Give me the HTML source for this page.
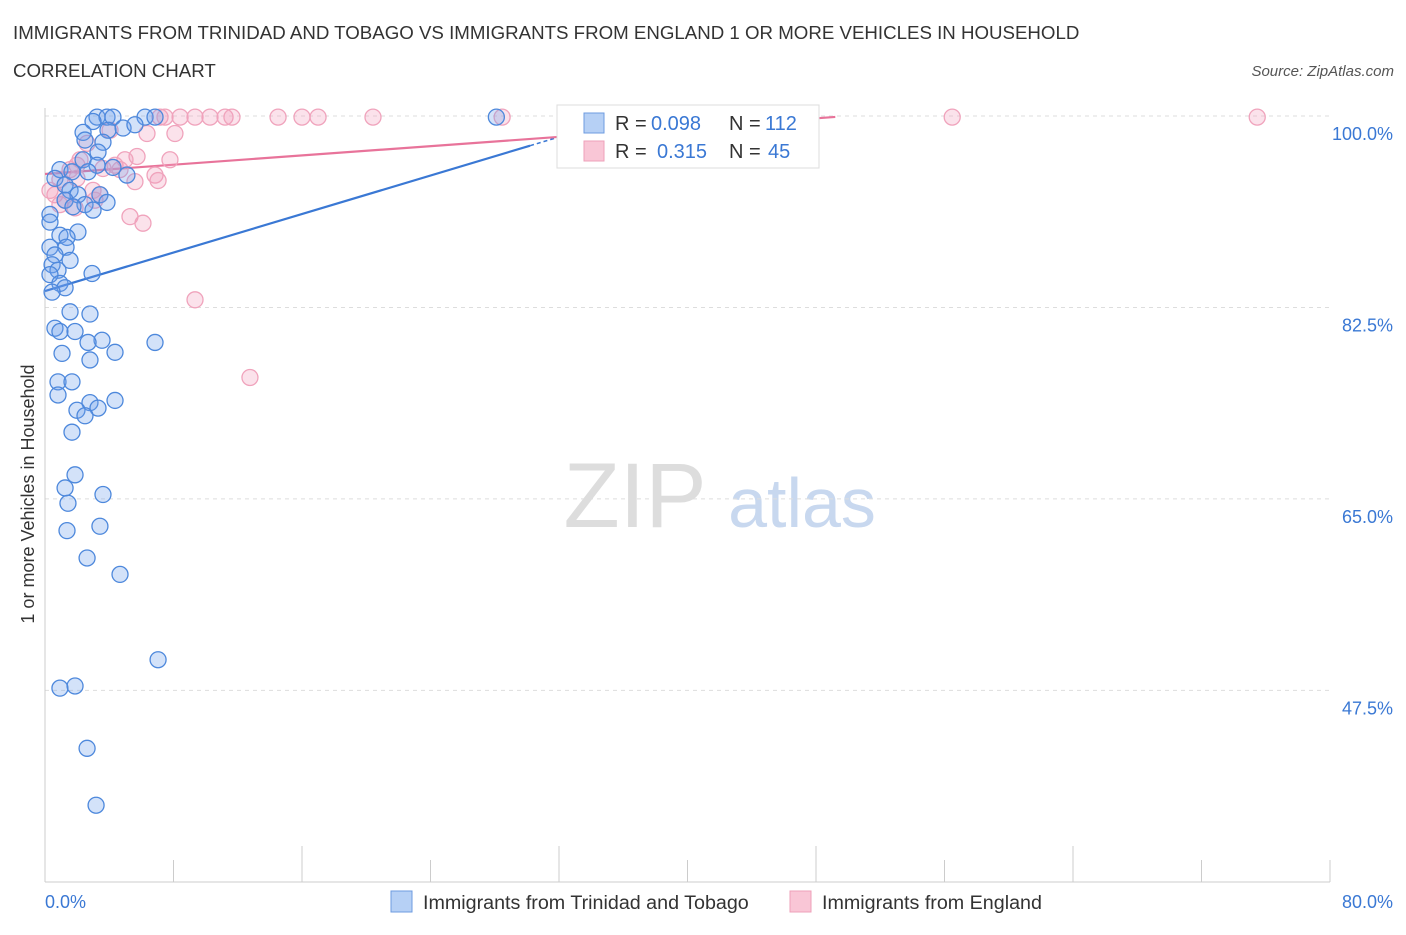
<!DOCTYPE html>
<html><head><meta charset="utf-8">
<style>
body{margin:0;background:#fff;font-family:"Liberation Sans",sans-serif;}
svg text{font-family:"Liberation Sans",sans-serif;}
</style></head>
<body>
<svg id="chart" width="1406" height="930" viewBox="0 0 1406 930" xmlns="http://www.w3.org/2000/svg">
<text x="13" y="39" font-size="18.7" fill="#333">IMMIGRANTS FROM TRINIDAD AND TOBAGO VS IMMIGRANTS FROM ENGLAND 1 OR MORE VEHICLES IN HOUSEHOLD</text>
<text x="13" y="77" font-size="18.7" fill="#333">CORRELATION CHART</text>
<text x="1394" y="76" font-size="15" fill="#555" text-anchor="end" font-style="italic">Source: ZipAtlas.com</text>
<g>
<text x="635" y="527" font-size="92" fill="#ddd" text-anchor="middle" font-family="Liberation Serif">ZIP</text>
<text x="802" y="527" font-size="70" fill="#c8d8ef" text-anchor="middle">atlas</text>
</g>
<g id="grid"></g>
<g id="axes"></g>
<g id="trend"></g>
<g id="points"></g>
<text transform="translate(34,494) rotate(-90)" font-size="18" fill="#333" text-anchor="middle">1 or more Vehicles in Household</text>
<g font-size="20">
<rect x="557" y="105" width="262" height="63" fill="#fff" stroke="#ddd"/>
<rect x="584" y="113" width="20" height="20" fill="#b6d0f5" stroke="#6d9be0"/>
<rect x="584" y="141" width="20" height="20" fill="#f9c6d6" stroke="#eea0b9"/>
<text x="615" y="130" fill="#333">R =</text>
<text x="651" y="130" fill="#3a78d4">0.098</text>
<text x="729" y="130" fill="#333">N =</text>
<text x="765" y="130" fill="#3a78d4">112</text>
<text x="615" y="158" fill="#333">R =</text>
<text x="657" y="158" fill="#3a78d4">0.315</text>
<text x="729" y="158" fill="#333">N =</text>
<text x="768" y="158" fill="#3a78d4">45</text>
</g>
<g>
<rect x="391" y="891" width="21" height="21" fill="#b6d0f5" stroke="#6d9be0"/>
<text x="423" y="909" font-size="19.7" fill="#333">Immigrants from Trinidad and Tobago</text>
<rect x="790" y="891" width="21" height="21" fill="#f9c6d6" stroke="#eea0b9"/>
<text x="822" y="909" font-size="19.7" fill="#333">Immigrants from England</text>
</g>
</svg>
<script>
const xTicks=[0,8,16,24,32,40,48,56,64,72,80];
const yTicks=[100,82.5,65,47.5];
const yTickLabels=["100.0%","82.5%","65.0%","47.5%"];
const xEndLabels=["0.0%","80.0%"];
const blueX=[3.24,3.86,4.23,6.23,6.85,28.1,2.99,4.86,5.6,3.92,2.37,2.49,3.61,3.3,2.37,3.24,4.23,5.1,0.93,1.68,2.68,0.62,1.25,1.56,2.05,3.42,1.25,2.49,3.86,1.74,2.99,0.31,0.31,2.05,0.93,1.37,0.31,1.31,0.62,1.56,0.44,0.81,2.93,0.31,0.93,1.25,0.44,1.56,2.8,0.62,0.93,1.87,3.55,2.68,6.85,1.06,4.36,2.8,0.81,1.68,0.81,4.36,2.8,1.99,3.3,2.49,1.68,1.87,1.25,3.61,1.43,1.37,3.42,2.62,4.67,7.04,0.93,1.87,2.62,3.18];
const blueY=[99.9,99.9,99.9,99.9,99.9,99.9,99.5,98.9,99.2,98.7,98.5,97.8,97.6,96.7,96.0,95.5,95.3,94.6,95.1,94.9,94.9,94.3,93.7,93.2,92.8,92.8,92.3,91.9,92.1,91.7,91.4,91.0,90.3,89.4,89.1,88.9,88.0,88.0,87.3,86.8,86.4,85.9,85.6,85.5,84.7,84.3,83.9,82.1,81.9,80.6,80.3,80.3,79.5,79.3,79.3,78.3,78.4,77.7,75.7,75.7,74.5,74.0,73.8,73.1,73.3,72.6,71.1,67.2,66.0,65.4,64.6,62.1,62.5,59.6,58.1,50.3,47.7,47.9,42.2,37.0];
const pinkX=[7.16,7.47,8.41,9.34,10.27,11.21,11.64,14.51,16.0,17.0,20.42,28.46,33.0,56.48,75.47,4.05,6.35,8.09,2.62,5.73,7.78,4.98,4.36,3.61,1.99,4.67,6.85,1.99,5.6,7.04,2.99,0.62,3.42,0.93,1.87,5.29,6.1,9.34,12.76,1.25,3.11,0.31,1.56,2.18,0.93];
const pinkY=[99.9,99.9,99.9,99.9,99.9,99.9,99.9,99.9,99.9,99.9,99.9,99.9,99.9,99.9,99.9,98.7,98.4,98.4,97.5,96.3,96.0,96.0,95.5,95.2,95.5,95.1,94.6,94.3,94.0,94.1,93.2,92.8,92.8,91.9,91.6,90.8,90.2,83.2,76.1,92.3,92.3,93.2,95.1,96.0,94.2];
const blueTrend=[84.0,0.44];
const pinkTrend=[94.7,0.106];
const blueTrendEnd=[30.2,32.5];
const pinkTrendEnd=[49.2];

const NS="http://www.w3.org/2000/svg";
const X=v=>45+v*(1285/80);
const Y=v=>116+(100-v)*10.94;
function mk(tag,attrs,parent){const e=document.createElementNS(NS,tag);for(const k in attrs)e.setAttribute(k,attrs[k]);parent.appendChild(e);return e;}
const grid=document.getElementById('grid'),axes=document.getElementById('axes'),trend=document.getElementById('trend'),pts=document.getElementById('points');
yTicks.forEach((t,i)=>{
 const l=mk('line',{x1:45,x2:1330,y1:Y(t),y2:Y(t),stroke:'#ddd','stroke-dasharray':'4,4'},grid);
 
 
 const tx=mk('text',{x:1393,y:Y(t)+24,'font-size':18,fill:'#3a78d4','text-anchor':'end'},axes);
 tx.textContent=yTickLabels[i];
 
 
});
const ax=mk('line',{x1:45,x2:1330,y1:882,y2:882,stroke:'#ccc'},axes);


const ay=mk('line',{x1:45,x2:45,y1:108,y2:882,stroke:'#ccc'},axes);


xTicks.forEach(t=>{
 const l=mk('line',{x1:X(t),x2:X(t),y1:t%16==0&&t>0&&t<80?846:860,y2:882,stroke:'#ccc'},axes);
 
 
});
const xl0=mk('text',{x:45,y:908,'font-size':18,fill:'#3a78d4'},axes);xl0.textContent=xEndLabels[0];


const xl1=mk('text',{x:1393,y:908,'font-size':18,fill:'#3a78d4','text-anchor':'end'},axes);xl1.textContent=xEndLabels[1];



function dot(x,y,fill,stroke,name){
 const c=mk('circle',{cx:X(x),cy:Y(y),r:8,fill:fill,stroke:stroke,'stroke-width':1.3},pts);
 
 
}
pinkX.forEach((x,i)=>dot(x,pinkY[i],'rgba(243,160,190,0.3)','#f0a3bc','england-point'));
blueX.forEach((x,i)=>dot(x,blueY[i],'rgba(110,160,235,0.3)','#4d88dc','trinidad-point'));

const bf=v=>blueTrend[0]+blueTrend[1]*v, pf=v=>pinkTrend[0]+pinkTrend[1]*v;
const bl=mk('line',{x1:X(0),y1:Y(bf(0)),x2:X(blueTrendEnd[0]),y2:Y(bf(blueTrendEnd[0])),stroke:'#3a78d4','stroke-width':2.2},trend);


const bd=mk('line',{x1:X(blueTrendEnd[0]),y1:Y(bf(blueTrendEnd[0])),x2:X(blueTrendEnd[1]),y2:Y(bf(blueTrendEnd[1])),stroke:'#3a78d4','stroke-width':1.5,'stroke-dasharray':'4,3'},trend);


const pl=mk('line',{x1:X(0),y1:Y(pf(0)),x2:X(pinkTrendEnd[0]),y2:Y(pf(pinkTrendEnd[0])),stroke:'#e8739a','stroke-width':2.2},trend);


</script>
</body></html>
